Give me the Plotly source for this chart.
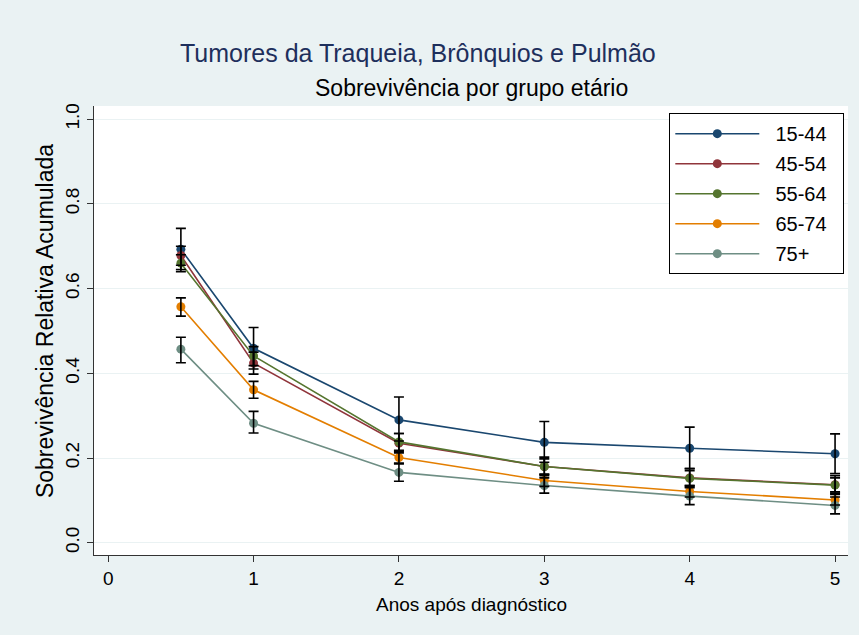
import plotly.graph_objects as go

years = [0.5, 1, 2, 3, 4, 5]
groups = ["15-44", "45-54", "55-64", "65-74", "75+"]
colors = ["#1A476F", "#90353B", "#55752F", "#E37E00", "#6E8E84"]

surv_15_44 = [0.693, 0.459, 0.290, 0.237, 0.223, 0.210]
low_15_44 = [0.645, 0.410, 0.240, 0.190, 0.175, 0.163]
up_15_44 = [0.742, 0.508, 0.344, 0.286, 0.273, 0.257]

surv_45_54 = [0.678, 0.424, 0.235, 0.180, 0.153, 0.137]
low_45_54 = [0.655, 0.398, 0.212, 0.158, 0.132, 0.117]
up_45_54 = [0.700, 0.450, 0.258, 0.202, 0.175, 0.158]

surv_55_64 = [0.660, 0.441, 0.238, 0.180, 0.152, 0.136]
low_55_64 = [0.640, 0.418, 0.218, 0.162, 0.135, 0.120]
up_55_64 = [0.680, 0.463, 0.258, 0.198, 0.170, 0.153]

surv_65_74 = [0.557, 0.361, 0.201, 0.147, 0.121, 0.101]
low_65_74 = [0.535, 0.341, 0.186, 0.133, 0.108, 0.089]
up_65_74 = [0.578, 0.381, 0.216, 0.161, 0.135, 0.114]

surv_75 = [0.457, 0.282, 0.166, 0.135, 0.110, 0.088]
low_75 = [0.425, 0.259, 0.145, 0.117, 0.090, 0.068]
up_75 = [0.485, 0.310, 0.188, 0.153, 0.130, 0.108]

series = [
    (surv_15_44, low_15_44, up_15_44),
    (surv_45_54, low_45_54, up_45_54),
    (surv_55_64, low_55_64, up_55_64),
    (surv_65_74, low_65_74, up_65_74),
    (surv_75, low_75, up_75),
]

x_ticks = [0, 1, 2, 3, 4, 5]
y_ticks = [0.0, 0.2, 0.4, 0.6, 0.8, 1.0]
y_ticklabels = ["0.0", "0.2", "0.4", "0.6", "0.8", "1.0"]

FONT = "Liberation Sans, Arial, sans-serif"
BG = "#EAF2F3"
NB = "\u00a0"

fig = go.Figure()
for name, col, (v, lo, hi) in zip(groups, colors, series):
    fig.add_trace(go.Scatter(
        x=years, y=v, name=NB * 2 + name + NB * 2, mode="lines+markers",
        line=dict(color=col, width=1.6),
        marker=dict(color=col, size=9),
        legendgroup=name,
    ))
for name, (v, lo, hi) in zip(groups, series):
    fig.add_trace(go.Scatter(
        x=years, y=v, mode="markers", showlegend=False, hoverinfo="skip",
        marker=dict(color="rgba(0,0,0,0)", size=1),
        error_y=dict(type="data", symmetric=False,
                     array=[h - a for h, a in zip(hi, v)],
                     arrayminus=[a - l for a, l in zip(v, lo)],
                     color="black", thickness=1.6, width=5),
    ))

fig.update_layout(
    width=859, height=635,
    paper_bgcolor=BG, plot_bgcolor="white",
    margin=dict(l=94, r=11, t=106, b=80),
    font=dict(family=FONT, color="black"),
    showlegend=True,
    legend=dict(
        x=0.763, y=0.984, xanchor="left", yanchor="top",
        bgcolor="white", bordercolor="black", borderwidth=1,
        font=dict(size=20, family=FONT, color="black"),
        itemwidth=84, tracegroupgap=1, traceorder="grouped",
    ),
    xaxis=dict(
        range=[-0.0976, 5.089], tickvals=x_ticks, ticks="outside", ticklen=6,
        tickcolor="#333", showline=True, linecolor="#333", linewidth=1,
        showgrid=False, zeroline=False,
        tickfont=dict(size=19, family=FONT, color="black"),
    ),
    yaxis=dict(
        range=[-0.029, 1.031], tickvals=y_ticks, ticktext=y_ticklabels,
        ticks="outside", ticklen=6, tickcolor="#333", tickangle=-90,
        showline=True, linecolor="#333", linewidth=1,
        showgrid=True, gridcolor=BG, gridwidth=1, zeroline=False,
        tickfont=dict(size=19, family=FONT, color="black"),
    ),
    annotations=[
        dict(text="Tumores da Traqueia, Brônquios e Pulmão", x=0.4297, y=1.118,
             xref="paper", yref="paper", xanchor="center", yanchor="middle",
             showarrow=False, font=dict(size=25, family=FONT, color="#1E2F5C")),
        dict(text="Sobrevivência por grupo etário", x=0.5, y=1.040,
             xref="paper", yref="paper", xanchor="center", yanchor="middle",
             showarrow=False, font=dict(size=23, family=FONT, color="black")),
        dict(text="Sobrevivência Relativa Acumulada", x=-0.065, y=0.521,
             xref="paper", yref="paper", xanchor="center", yanchor="middle",
             textangle=-90, showarrow=False,
             font=dict(size=23, family=FONT, color="black")),
        dict(text="Anos após diagnóstico", x=0.5, y=-0.111,
             xref="paper", yref="paper", xanchor="center", yanchor="middle",
             showarrow=False, font=dict(size=19, family=FONT, color="black")),
    ],
)

fig.write_html("out.html", config={"displayModeBar": False},
               post_script="document.body.style.margin='0';")
